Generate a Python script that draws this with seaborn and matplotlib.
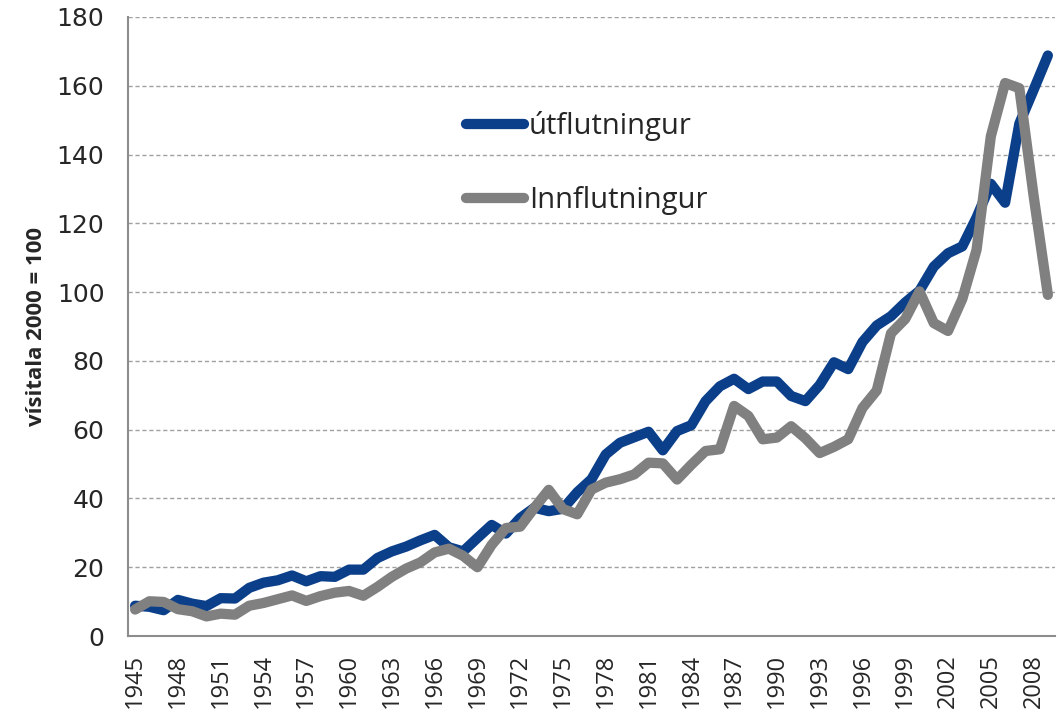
import numpy as np
import pandas as pd
import matplotlib
matplotlib.use("Agg")
import matplotlib.pyplot as plt
import seaborn as sns

# index values, 2000 = 100
years = list(range(1945, 2010))
utflutningur = [
    8.8, 8.5, 7.5, 10.5, 9.4, 8.7, 11.0, 10.9, 14.0, 15.5,
    16.2, 17.6, 15.9, 17.4, 17.2, 19.3, 19.3, 22.7, 24.6, 26.0,
    27.8, 29.4, 25.8, 24.6, 28.5, 32.3, 29.8, 34.3, 37.3, 36.3,
    37.0, 41.8, 45.6, 52.8, 56.2, 57.8, 59.4, 54.0, 59.6, 61.3,
    68.3, 72.6, 74.8, 71.8, 74.0, 74.0, 69.8, 68.3, 73.0, 79.6,
    77.6, 85.5, 90.3, 93.0, 97.0, 100.4, 107.4, 111.3, 113.3, 121.7,
    131.5, 126.0, 149.0, 158.8, 168.8,
]
innflutningur = [
    7.7, 10.1, 9.9, 7.8, 7.2, 5.7, 6.5, 6.2, 8.8, 9.6,
    10.7, 11.8, 10.2, 11.6, 12.6, 13.1, 11.7, 14.3, 17.2, 19.6,
    21.4, 24.3, 25.4, 23.3, 20.0, 26.5, 31.4, 31.8, 37.3, 42.5,
    36.9, 35.4, 42.6, 44.6, 45.6, 47.0, 50.4, 50.2, 45.5, 49.8,
    53.8, 54.3, 66.9, 64.0, 57.2, 57.7, 61.0, 57.5, 53.2, 55.0,
    57.2, 66.3, 71.4, 88.0, 92.2, 100.2, 91.0, 88.7, 98.0, 112.3,
    145.3, 160.8, 159.3, 128.0, 99.2,
]
series_names = ["útflutningur", "Innflutningur"]
series_colors = ["#0b3f8a", "#808080"]
xtick_years = list(range(1945, 2009, 3))
yticks = list(range(0, 181, 20))

df = pd.DataFrame({"ár": years, series_names[0]: utflutningur, series_names[1]: innflutningur})
long = df.melt(id_vars="ár", var_name="röð", value_name="vísitala")

sns.set_style("white")
plt.rcParams["font.family"] = ["Open Sans", "DejaVu Sans"]

fig = plt.figure(figsize=(10.6, 7.17), dpi=100)
ax = fig.add_axes([128 / 1060, 1 - 636 / 717, (1055 - 128) / 1060, (636 - 17) / 717])

sns.lineplot(data=long, x="ár", y="vísitala", hue="röð", hue_order=series_names,
             palette=series_colors, linewidth=7.4, ax=ax,
             solid_capstyle="round", solid_joinstyle="round")

ax.set_xlim(1944.5, 2009.5)
ax.set_ylim(0, 180)
ax.set_yticks(yticks)
ax.set_xticks(xtick_years)
ax.set_xticklabels([str(y) for y in xtick_years], rotation=90, fontsize=17)
ax.set_yticklabels([str(v) for v in yticks], fontsize=18, family="DejaVu Sans")
ax.tick_params(axis="x", length=0, pad=13)
ax.tick_params(axis="y", length=0, pad=17)
ax.yaxis.grid(True, linestyle=(0, (3, 2)), color="#a0a0a0", linewidth=1)
ax.set_axisbelow(True)

for side in ["top", "right"]:
    ax.spines[side].set_visible(False)
for side in ["left", "bottom"]:
    ax.spines[side].set_color("#8c8c8c")
    ax.spines[side].set_linewidth(1.5)

ax.set_xlabel("")
ax.set_ylabel("vísitala 2000 = 100", fontsize=16, fontweight="bold", labelpad=7)

handles, labels = ax.get_legend_handles_labels()
leg = ax.legend(handles, labels, loc="upper left",
                bbox_to_anchor=(466 / 1060, 1 - 111 / 717),
                bbox_transform=fig.transFigure, frameon=False,
                fontsize=21, handlelength=2.0, handletextpad=0.15,
                labelspacing=1.55, borderaxespad=0, borderpad=0)
for line in leg.get_lines():
    line.set_linewidth(7.4)
    line.set_solid_capstyle("round")

fig.savefig("out.png", dpi=100)
